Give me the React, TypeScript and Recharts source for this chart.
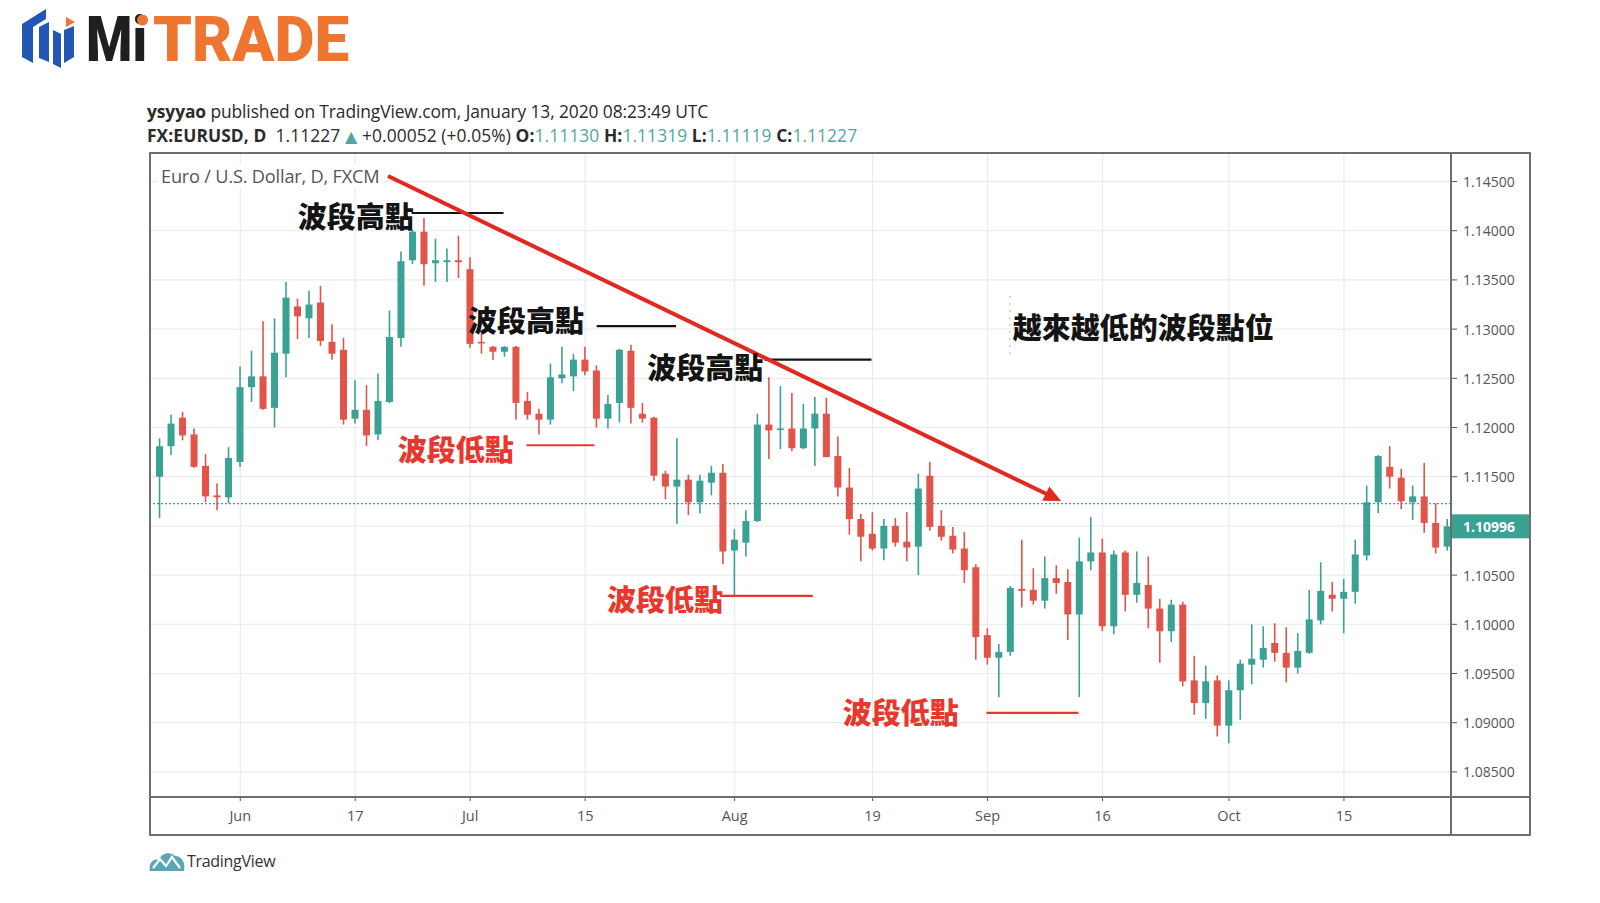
import { ComposedChart, Bar, XAxis, YAxis, CartesianGrid, ReferenceLine, ReferenceDot } from 'recharts';

// EURUSD daily, May 23 - Oct 28 2019 (FXCM)
const OPEN = [
  1.115, 1.1181, 1.121, 1.1193, 1.1161, 1.1131, 1.1129, 1.1165, 1.1241, 1.1252,
  1.122, 1.1275, 1.1323, 1.1311, 1.1327, 1.1287, 1.1279, 1.1209, 1.1218, 1.1193,
  1.1226, 1.1291, 1.137, 1.1399, 1.1367, 1.1368, 1.137, 1.1361, 1.1287, 1.1282,
  1.1277, 1.1282, 1.1227, 1.1214, 1.1208, 1.125, 1.1252, 1.1269, 1.1258, 1.1209,
  1.1225, 1.1278, 1.1214, 1.121, 1.1153, 1.114, 1.1147, 1.1124, 1.1144, 1.1154,
  1.1075, 1.1083, 1.1105, 1.1203, 1.1198, 1.1199, 1.1179, 1.1199, 1.1214, 1.1171,
  1.1139, 1.1107, 1.1092, 1.1077, 1.11, 1.1084, 1.1079, 1.1151, 1.11, 1.109,
  1.1077, 1.1058, 1.0989, 1.0966, 1.0972, 1.1036, 1.1035, 1.1024, 1.1047, 1.1043,
  1.101, 1.1064, 1.1073, 1.0998, 1.1073, 1.103, 1.104, 1.1016, 1.0993, 1.102,
  1.0943, 1.092, 1.0943, 1.0897, 1.0933, 1.0959, 1.0964, 1.0981, 1.0971, 1.0956,
  1.0971, 1.1004, 1.103, 1.1026, 1.1033, 1.107, 1.1124, 1.116, 1.1149, 1.1124,
  1.113, 1.1103, 1.1079,
];
const HIGH = [
  1.1189, 1.1213, 1.1216, 1.1199, 1.1173, 1.1143, 1.118, 1.1262, 1.1278, 1.1308,
  1.1311, 1.1348, 1.1331, 1.1339, 1.1344, 1.1305, 1.1291, 1.1248, 1.1243, 1.1255,
  1.1319, 1.1379, 1.1401, 1.1413, 1.1392, 1.1382, 1.1395, 1.1373, 1.1296, 1.1283,
  1.1283, 1.1283, 1.1236, 1.1219, 1.1265, 1.1282, 1.1275, 1.1282, 1.1263, 1.1233,
  1.128, 1.1284, 1.1225, 1.1211, 1.1156, 1.1189, 1.1152, 1.1152, 1.1161, 1.1163,
  1.1097, 1.1116, 1.1214, 1.1251, 1.1242, 1.1235, 1.1224, 1.1231, 1.123, 1.1191,
  1.1159, 1.1112, 1.1114, 1.1107, 1.1108, 1.1114, 1.1153, 1.1165, 1.1116, 1.1099,
  1.1094, 1.1061, 1.0996, 1.098, 1.1039, 1.1086, 1.1057, 1.1069, 1.106, 1.1056,
  1.1088, 1.1109, 1.1087, 1.1075, 1.1075, 1.1074, 1.1069, 1.1026, 1.1025, 1.1023,
  1.0968, 1.0958, 1.0948, 1.0943, 1.0964, 1.1, 1.0998, 1.1001, 1.0997, 1.0991,
  1.1035, 1.1063, 1.1043, 1.1046, 1.1086, 1.1141, 1.1172, 1.1181, 1.1158, 1.1141,
  1.1164, 1.1123, 1.1107,
];
const LOW = [
  1.1108, 1.1172, 1.1187, 1.1159, 1.1124, 1.1116, 1.1123, 1.116, 1.1226, 1.1218,
  1.12, 1.1251, 1.129, 1.1291, 1.1283, 1.1269, 1.1203, 1.1204, 1.1181, 1.1187,
  1.1225, 1.1282, 1.1366, 1.1344, 1.1348, 1.1348, 1.1352, 1.1281, 1.1275, 1.1269,
  1.1272, 1.1208, 1.1208, 1.1193, 1.1203, 1.1245, 1.1237, 1.1253, 1.12, 1.1199,
  1.1205, 1.1204, 1.1205, 1.1146, 1.1127, 1.1102, 1.1111, 1.1113, 1.1131, 1.1061,
  1.1028, 1.1069, 1.1104, 1.1168, 1.1178, 1.1176, 1.1178, 1.1161, 1.117, 1.113,
  1.1091, 1.1064, 1.1075, 1.1065, 1.1079, 1.1064, 1.105, 1.1095, 1.1085, 1.1072,
  1.1042, 1.0964, 1.0959, 1.0926, 1.0968, 1.1017, 1.102, 1.1016, 1.1031, 1.0984,
  1.0926, 1.1055, 1.0993, 1.099, 1.1013, 1.1022, 1.0996, 1.0961, 1.0982, 1.0937,
  1.0908, 1.0904, 1.0886, 1.0879, 1.0903, 1.0939, 1.0956, 1.0962, 1.0941, 1.095,
  1.097, 1.1, 1.1013, 1.0991, 1.1021, 1.1065, 1.1113, 1.1138, 1.1117, 1.1106,
  1.1093, 1.1072, 1.1075,
];
const CLOSE = [
  1.1181, 1.1204, 1.1192, 1.116, 1.113, 1.1129, 1.1169, 1.1241, 1.1252, 1.1219,
  1.1276, 1.1332, 1.1313, 1.1325, 1.1288, 1.1275, 1.1208, 1.1218, 1.1192, 1.1227,
  1.1292, 1.1369, 1.1399, 1.1366, 1.137, 1.137, 1.1368, 1.1285, 1.1286, 1.1277,
  1.1282, 1.1225, 1.1213, 1.1208, 1.1251, 1.1254, 1.1269, 1.1257, 1.1209, 1.1224,
  1.1279, 1.122, 1.1209, 1.1151, 1.114, 1.1147, 1.1124, 1.1146, 1.1154, 1.1074,
  1.1086, 1.1105, 1.1203, 1.1197, 1.1199, 1.1179, 1.1199, 1.1214, 1.117, 1.1139,
  1.1107, 1.1089, 1.1077, 1.11, 1.1083, 1.1078, 1.1138, 1.1099, 1.1089, 1.1076,
  1.1055, 1.0987, 1.0966, 1.0972, 1.1037, 1.1034, 1.1024, 1.1047, 1.1042, 1.101,
  1.1064, 1.1073, 1.0998, 1.1071, 1.103, 1.1042, 1.1016, 1.0993, 1.102, 1.0942,
  1.092, 1.0942, 1.0897, 1.0933, 1.096, 1.0965, 1.0976, 1.0971, 1.0956, 1.0973,
  1.1005, 1.1034, 1.1026, 1.1033, 1.1071, 1.1124, 1.1171, 1.115, 1.1125, 1.113,
  1.1103, 1.1078, 1.10996,
];

// bar index of each date label (bar 0 = May 23)
const TICK_INDEX = [7, 17, 27, 37, 50, 62, 72, 82, 93, 103];
const TICK_LABELS = ['Jun', '17', 'Jul', '15', 'Aug', '19', 'Sep', '16', 'Oct', '15'];
const PRICE_TICKS = [1.085, 1.09, 1.095, 1.1, 1.105, 1.11, 1.115, 1.12, 1.125, 1.13, 1.135, 1.14, 1.145];

const LAST_PRICE = 1.11227;
const LAST_BAR_CLOSE = 1.10996;
const TAG_HIDES_TICK = 1.11;

// hand drawn notes, in bar index / price units
const NOTES = [
  { text: '波段高點', i: 12.0, p: 1.1416, red: false },
  { text: '波段高點', i: 26.8, p: 1.131, red: false },
  { text: '波段高點', i: 42.4, p: 1.1263, red: false },
  { text: '越來越低的波段點位', i: 74.2, p: 1.1303, red: false },
  { text: '波段低點', i: 20.7, p: 1.1179, red: true },
  { text: '波段低點', i: 38.9, p: 1.1027, red: true },
  { text: '波段低點', i: 59.4, p: 1.0912, red: true },
];
const NOTE_LINES = [
  { from: 21.9, to: 29.9, p: 1.1418, red: false },
  { from: 38.0, to: 44.9, p: 1.1303, red: false },
  { from: 52.6, to: 61.9, p: 1.1269, red: false },
  { from: 31.9, to: 37.8, p: 1.1182, red: true },
  { from: 48.7, to: 56.8, p: 1.1029, red: true },
  { from: 71.9, to: 79.9, p: 1.091, red: true },
];
const TREND = [
  { i: 19.85, p: 1.14556 },
  { i: 78.4, p: 1.11253 },
];

const UP = '#3aa195';
const DOWN = '#e2544a';
const ARROW_RED = '#e2291f';
const NOTE_RED = '#e8372c';
const INK = '#141414';
const CJK = '"Noto Sans CJK TC", "Noto Sans CJK SC", sans-serif';
const UI = '"Open Sans", "Noto Sans", sans-serif';

const rows = OPEN.map((o, i) => ({
  i,
  o,
  h: HIGH[i],
  l: LOW[i],
  c: CLOSE[i],
  range: [LOW[i], HIGH[i]],
}));

function Candle(props: any) {
  const { x, y, width, height, payload } = props;
  if (!payload) return null;
  const { o, h, l, c } = payload;
  const color = c >= o ? UP : DOWN;
  const top = Math.min(y, y + height);
  const span = Math.abs(height);
  const k = h === l ? 0 : span / (h - l);
  const bodyTop = top + (h - Math.max(o, c)) * k;
  const bodyH = Math.max(1.5, Math.abs(o - c) * k);
  const mid = x + width / 2;
  return (
    <g>
      <line x1={mid} x2={mid} y1={top} y2={top + span} stroke={color} strokeWidth={1.6} />
      <rect x={x} y={bodyTop} width={width} height={bodyH} fill={color} />
    </g>
  );
}

function TrendArrow(props: any) {
  const { x1, y1, x2, y2 } = props;
  const a = Math.atan2(y2 - y1, x2 - x1);
  const len = 17;
  const half = 8;
  const bx = x2 - len * Math.cos(a);
  const by = y2 - len * Math.sin(a);
  const px = -Math.sin(a) * half;
  const py = Math.cos(a) * half;
  return (
    <g>
      <line x1={x1} y1={y1} x2={bx + 2 * Math.cos(a)} y2={by + 2 * Math.sin(a)} stroke={ARROW_RED} strokeWidth={4} />
      <polygon points={`${x2},${y2} ${bx + px},${by + py} ${bx - px},${by - py}`} fill={ARROW_RED} />
    </g>
  );
}

function PriceTag(props: any) {
  const { cx, cy } = props;
  return (
    <g>
      <rect x={cx} y={cy - 12} width={79} height={24} fill={UP} />
      <text x={cx + 12} y={cy} dominantBaseline="central" fill="#fff" fontSize={14} fontWeight={700} fontFamily={UI}>
        {LAST_BAR_CLOSE.toFixed(5)}
      </text>
    </g>
  );
}

// right axis tick: the last-price tag sits on 1.11000, so that one is left out
function PriceTick(props: any) {
  const { x, y, payload } = props;
  if (Math.abs(payload.value - TAG_HIDES_TICK) < 1e-9) return null;
  return (
    <g>
      <line x1={x - 12} x2={x - 6} y1={y} y2={y} stroke="#555" />
      <text x={x} y={y} dominantBaseline="central" fill="#555" fontSize={14} fontFamily={UI}>
        {payload.value.toFixed(5)}
      </text>
    </g>
  );
}

function noteShape(text: string, red: boolean) {
  return (props: any) => (
    <text
      x={props.cx}
      y={props.cy}
      dominantBaseline="central"
      fill={red ? NOTE_RED : INK}
      fontSize={29}
      fontWeight={900}
      fontFamily={CJK}
    >
      {text}
    </text>
  );
}

function Logo() {
  return (
    <svg width={420} height={90} style={{ position: 'absolute', left: 0, top: 0 }}>
      <g fill="#2457b5">
        <polygon points="22,24 46,9 46,19 33,27 33,63 22,57" />
        <polygon points="39,27 49,22 49,62 39,58" />
        <polygon points="53,30 61,34 61,68 53,64" />
        <polygon points="64,30 74,26 74,57 64,63" />
      </g>
      <polygon points="66,17 75,22 66,27" fill="#ee7631" />
      <text x={86} y={61} fontSize={63} fontWeight={900} fontFamily="Roboto, sans-serif" fill="#1f1f1f" textLength={61} lengthAdjust="spacingAndGlyphs">
        Mi
      </text>
      <text x={153} y={61} fontSize={63} fontWeight={900} fontFamily="Roboto, sans-serif" fill="#ee7631" textLength={196} lengthAdjust="spacingAndGlyphs">
        TRADE
      </text>
      <circle cx={142.5} cy={20} r={5.5} fill="#ee7631" />
    </svg>
  );
}

function TradingViewMark() {
  return (
    <div style={{ position: 'absolute', left: 148, top: 848, height: 26, display: 'flex', alignItems: 'center' }}>
      <svg width={38} height={24}>
        <path d="M2,22 C0,14 6,9 11,11 C13,4 22,2 27,7 C33,7 38,13 36,22 Z" fill="#5aa6b8" />
        <polyline points="5,19 12,10 18,17 24,8 32,19" fill="none" stroke="#fff" strokeWidth={2.2} />
      </svg>
      <span style={{ fontSize: 16, color: '#333', fontFamily: UI, marginLeft: 1, letterSpacing: -0.3 }}>TradingView</span>
    </div>
  );
}

const teal = { color: '#52a7a3' };

export default function App() {
  return (
    <div
      style={{
        position: 'absolute',
        left: 0,
        top: 0,
        width: 1600,
        height: 903,
        background: '#fff',
        overflow: 'hidden',
        fontFamily: UI,
      }}
    >
      <Logo />
      <div style={{ position: 'absolute', left: 147, top: 100, fontSize: 17.4, lineHeight: '22px', color: '#2b2b2b', whiteSpace: 'nowrap', letterSpacing: -0.1 }}>
        <b>ysyyao</b> published on TradingView.com, January 13, 2020 08:23:49 UTC
      </div>
      <div style={{ position: 'absolute', left: 147, top: 124, fontSize: 17.4, lineHeight: '22px', color: '#2b2b2b', whiteSpace: 'nowrap', letterSpacing: 0.08 }}>
        <b>FX:EURUSD, D</b>&nbsp; 1.11227 <span style={{ ...teal, fontFamily: '"DejaVu Sans", sans-serif', fontSize: 16 }}>▲</span> +0.00052 (+0.05%) <b>O:</b>
        <span style={teal}>1.11130</span> <b>H:</b>
        <span style={teal}>1.11319</span> <b>L:</b>
        <span style={teal}>1.11119</span> <b>C:</b>
        <span style={teal}>1.11227</span>
      </div>

      <div style={{ position: 'absolute', left: 0, top: 0 }}>
        <ComposedChart width={1600} height={903} data={rows} margin={{ top: 153, right: 70, bottom: 68, left: 150 }}>
          <CartesianGrid stroke="#e8ecef" strokeWidth={1.2} />
          <XAxis
            dataKey="i"
            type="number"
            domain={[-0.852, 112.31]}
            allowDataOverflow
            ticks={TICK_INDEX}
            interval={0}
            tickFormatter={(v: number) => TICK_LABELS[TICK_INDEX.indexOf(v)] ?? ''}
            height={38}
            axisLine={false}
            tickLine={{ stroke: '#555' }}
            tickSize={4}
            tickMargin={10}
            tick={{ fill: '#555', fontSize: 14.5, fontFamily: UI }}
          />
          <YAxis
            orientation="right"
            width={79}
            domain={[1.08245, 1.1479]}
            allowDataOverflow
            ticks={PRICE_TICKS}
            interval={0}
            axisLine={false}
            tickLine={false}
            tickSize={6}
            tickMargin={6}
            tick={PriceTick}
          />
          <ReferenceLine y={LAST_PRICE} stroke={UP} strokeWidth={1.2} strokeDasharray="2 2" />
          <Bar dataKey="range" barSize={7} shape={Candle} isAnimationActive={false} />
          <ReferenceLine
            segment={[
              { x: 73.94, y: 1.13336 },
              { x: 73.94, y: 1.12696 },
            ]}
            stroke="#b5b5b5"
            strokeDasharray="2 5"
          />
          {NOTE_LINES.map((ln, k) => (
            <ReferenceLine
              key={`nl${k}`}
              segment={[
                { x: ln.from, y: ln.p },
                { x: ln.to, y: ln.p },
              ]}
              stroke={ln.red ? NOTE_RED : INK}
              strokeWidth={2.2}
            />
          ))}
          <ReferenceLine
            segment={[
              { x: TREND[0].i, y: TREND[0].p },
              { x: TREND[1].i, y: TREND[1].p },
            ]}
            stroke={ARROW_RED}
            strokeWidth={4}
            shape={TrendArrow}
          />
          {NOTES.map((n, k) => (
            <ReferenceDot key={`n${k}`} x={n.i} y={n.p} r={0} ifOverflow="visible" shape={noteShape(n.text, n.red)} />
          ))}
          <ReferenceDot x={112.31} y={LAST_BAR_CLOSE} r={0} ifOverflow="visible" shape={PriceTag} />
        </ComposedChart>
      </div>

      {/* pane frame */}
      <div style={{ position: 'absolute', left: 149, top: 152, width: 1382, height: 684, border: '2px solid #6e6e6e', boxSizing: 'border-box', pointerEvents: 'none' }} />
      <div style={{ position: 'absolute', left: 1450, top: 152, width: 2, height: 684, background: '#6e6e6e' }} />
      <div style={{ position: 'absolute', left: 149, top: 796, width: 1382, height: 2, background: '#6e6e6e' }} />

      <div style={{ position: 'absolute', left: 158, top: 164, fontSize: 18.2, lineHeight: '24px', color: '#555', background: '#fff', padding: '0 3px', whiteSpace: 'nowrap', letterSpacing: -0.2 }}>
        Euro / U.S. Dollar, D, FXCM
      </div>
      <TradingViewMark />
    </div>
  );
}
